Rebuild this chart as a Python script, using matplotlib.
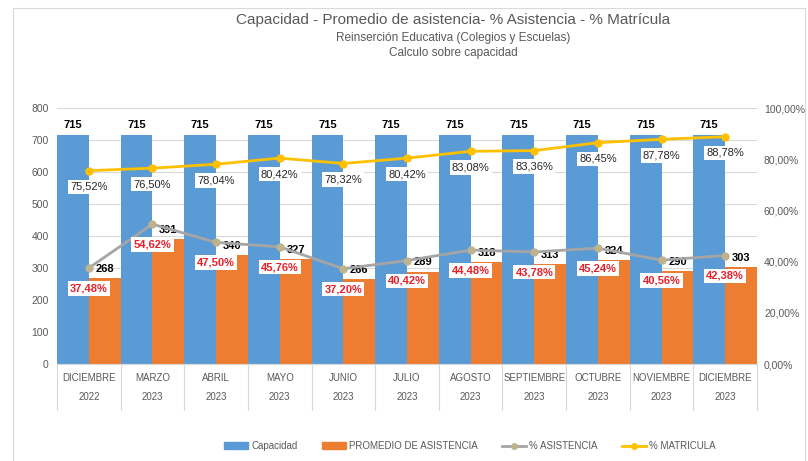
import matplotlib.pyplot as plt
from matplotlib.patches import Patch, Rectangle
from matplotlib.lines import Line2D

# Datos del gráfico
meses = ['DICIEMBRE', 'MARZO', 'ABRIL', 'MAYO', 'JUNIO', 'JULIO', 'AGOSTO',
         'SEPTIEMBRE', 'OCTUBRE', 'NOVIEMBRE', 'DICIEMBRE']
anios = ['2022', '2023', '2023', '2023', '2023', '2023', '2023', '2023', '2023', '2023', '2023']
capacidad = [715, 715, 715, 715, 715, 715, 715, 715, 715, 715, 715]
promedio = [268, 391, 340, 327, 266, 289, 318, 313, 324, 290, 303]
pct_asistencia = [37.48, 54.62, 47.50, 45.76, 37.20, 40.42, 44.48, 43.78, 45.24, 40.56, 42.38]
pct_matricula = [75.52, 76.50, 78.04, 80.42, 78.32, 80.42, 83.08, 83.36, 86.45, 87.78, 88.78]

plt.rcParams['font.family'] = ['Liberation Sans', 'DejaVu Sans']

azul = '#5B9BD5'
naranjo = '#ED7D31'
gris = '#A5A5A5'
amarillo = '#FFC000'
texto = '#595959'


def fmt_pct(v):
    return f'{v:.2f}%'.replace('.', ',')


fig = plt.figure(figsize=(8.08, 4.61), dpi=100)
# borde del área del gráfico
fig.patches.append(Rectangle((13 / 808, -0.01), (805 - 13) / 808, 1 - 8 / 461 + 0.01,
                             transform=fig.transFigure, fill=False,
                             edgecolor='#D9D9D9', linewidth=0.8))

ax = fig.add_axes([57 / 808, 1 - 364 / 461, 700 / 808, 256 / 461])
ax2 = ax.twinx()

x = list(range(len(meses)))
w = 0.5
ax.bar([i - w / 2 for i in x], capacidad, w, color=azul, zorder=2)
ax.bar([i + w / 2 for i in x], promedio, w, color=naranjo, zorder=2)

ax.set_ylim(0, 800)
ax.set_xlim(-0.5, len(meses) - 0.5)
ax.set_yticks(range(0, 801, 100))
ax.grid(axis='y', color='#D9D9D9', linewidth=0.8, zorder=0)
ax.set_axisbelow(True)
ax.tick_params(axis='y', length=0, labelsize=7.5, labelcolor=texto, pad=6)
ax.set_xticks([])
for s in ['top', 'left', 'right']:
    ax.spines[s].set_visible(False)
ax.spines['bottom'].set_color('#D9D9D9')

ax2.set_ylim(0, 100)
ax2.set_yticks(range(0, 101, 20))
ax2.set_yticklabels([fmt_pct(v) for v in range(0, 101, 20)])
ax2.tick_params(axis='y', length=0, labelsize=7.5, labelcolor=texto, pad=5)
for s in ['top', 'left', 'right', 'bottom']:
    ax2.spines[s].set_visible(False)

ax2.plot(x, pct_asistencia, color=gris, linewidth=2, marker='o', markersize=5,
         markerfacecolor='#BDB38F', markeredgecolor='#BDB38F', zorder=3)
ax2.plot(x, pct_matricula, color=amarillo, linewidth=2, marker='o', markersize=5, zorder=3)

# etiquetas de barras y líneas
for i in x:
    ax.annotate(str(capacidad[i]), (i - w / 2, capacidad[i]), xytext=(0, 3.5),
                textcoords='offset points', ha='center', va='bottom',
                fontsize=8, fontweight='bold', color='black')
    ax.annotate(str(promedio[i]), (i + w / 2, promedio[i]), xytext=(0, 3),
                textcoords='offset points', ha='center', va='bottom',
                fontsize=8, fontweight='bold', color='black', zorder=5)
    ax2.annotate(fmt_pct(pct_asistencia[i]), (i, pct_asistencia[i]), xytext=(0, -11),
                 textcoords='offset points', ha='center', va='top',
                 fontsize=8, fontweight='bold', color='#E8202A', zorder=6,
                 bbox=dict(boxstyle='square,pad=0.2', facecolor='white', edgecolor='none'))
    ax2.annotate(fmt_pct(pct_matricula[i]), (i, pct_matricula[i]), xytext=(0, -8),
                 textcoords='offset points', ha='center', va='top',
                 fontsize=8, color='#262626', zorder=6,
                 bbox=dict(boxstyle='square,pad=0.2', facecolor='white', edgecolor='none'))

# eje x de dos niveles
tr = ax.get_xaxis_transform()
for i in x:
    ax.text(i, -0.055, meses[i], transform=tr, ha='center', va='center',
            fontsize=7, color=texto)
    ax.text(i, -0.13, anios[i], transform=tr, ha='center', va='center',
            fontsize=7, color=texto)
for k in range(len(meses) + 1):
    ax.plot([k - 0.5, k - 0.5], [0, -0.18], transform=tr, color='#D9D9D9',
            linewidth=0.8, clip_on=False)

# títulos
fig.text(453 / 808, 1 - 20 / 461, 'Capacidad - Promedio de asistencia- % Asistencia - % Matrícula',
         ha='center', va='center', fontsize=11, color=texto)
fig.text(453 / 808, 1 - 38 / 461, 'Reinserción Educativa (Colegios y Escuelas)',
         ha='center', va='center', fontsize=8.5, color=texto)
fig.text(453 / 808, 1 - 53 / 461, 'Calculo sobre capacidad',
         ha='center', va='center', fontsize=8.5, color=texto)

handles = [Patch(color=azul), Patch(color=naranjo),
           Line2D([], [], color=gris, linewidth=2, marker='o', markersize=4,
                  markerfacecolor='#BDB38F', markeredgecolor='#BDB38F'),
           Line2D([], [], color=amarillo, linewidth=2, marker='o', markersize=4)]
fig.legend(handles, ['Capacidad', 'PROMEDIO DE ASISTENCIA', '% ASISTENCIA', '% MATRICULA'],
           loc='center', bbox_to_anchor=(470 / 808, 1 - 446 / 461), ncol=4, frameon=False,
           fontsize=7, labelcolor=texto, handlelength=2.5, handleheight=0.6,
           columnspacing=2.5, handletextpad=0.3)

fig.savefig('out.png', dpi=100)
